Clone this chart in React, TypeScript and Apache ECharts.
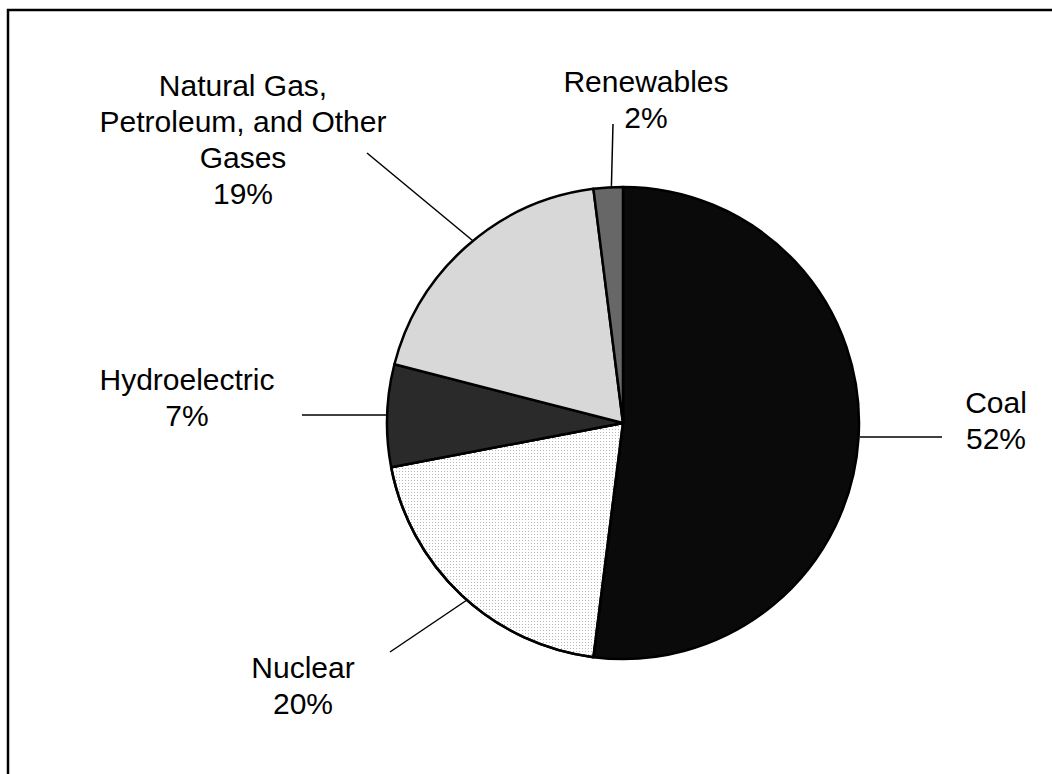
import React, { useEffect, useRef } from "react";
import * as echarts from "echarts";

const categories = [
  "Coal",
  "Nuclear",
  "Hydroelectric",
  "Natural Gas,\nPetroleum, and Other\nGases",
  "Renewables",
];
const shares = [52, 20, 7, 19, 2];

const sliceColors = ["#0a0a0a", "#ffffff", "#2a2a2a", "#d8d8d8", "#676767"];

// label anchor (center) and leader line endpoints, in pixels
const labelCenters: [number, number][] = [
  [996, 420],
  [303, 685],
  [187, 397],
  [243, 139],
  [646, 99],
];
const leaderLines: [number, number][][] = [
  [[860, 437], [942, 437]],
  [[467, 600], [390, 652]],
  [[392, 415], [302, 415]],
  [[478, 245], [367, 153]],
  [[611, 202], [613, 124]],
];

export default function App() {
  const ref = useRef<HTMLDivElement>(null);
  useEffect(() => {
    if (!ref.current) return;
    const chart = echarts.init(ref.current, null, { renderer: "svg" });
    chart.setOption({
      animation: false,
      backgroundColor: "#ffffff",
      graphic: [
        {
          type: "rect",
          shape: { x: 8, y: 10, width: 1300, height: 1000 },
          style: { fill: "none", stroke: "#000", lineWidth: 2.5 },
          silent: true,
        },
      ],
      series: [
        {
          type: "pie",
          center: [623, 423],
          radius: 236,
          startAngle: 90,
          clockwise: true,
          avoidLabelOverlap: false,
          itemStyle: { borderColor: "#000", borderWidth: 2.5 },
          label: {
            show: true,
            position: "outside",
            color: "#000",
            fontFamily: "'Liberation Sans', Arial, sans-serif",
            fontSize: 30,
            lineHeight: 36,
            align: "center",
            formatter: (p: any) => `${p.name}\n${p.value}%`,
          },
          labelLine: {
            show: true,
            lineStyle: { color: "#000", width: 1.5 },
          },
          labelLayout: (p: any) => {
            const i = p.dataIndex;
            const c = labelCenters[i];
            const l = leaderLines[i];
            return {
              x: c[0],
              y: c[1],
              align: "center",
              verticalAlign: "middle",
              labelLinePoints: [l[0], l[1], l[1]],
            };
          },
          emphasis: { disabled: true },
          data: categories.map((name, i) => ({
            name,
            value: shares[i],
            itemStyle:
              i === 1
                ? {
                    color: sliceColors[i],
                    decal: {
                      symbol: "rect",
                      symbolSize: 1,
                      dashArrayX: [1, 2],
                      dashArrayY: [1, 2],
                      color: "#b8b8b8",
                    },
                  }
                : { color: sliceColors[i] },
          })),
        },
      ],
    });
    return () => chart.dispose();
  }, []);
  return (
    <div
      ref={ref}
      style={{ position: "absolute", left: 0, top: 0, width: 1052, height: 774 }}
    />
  );
}
